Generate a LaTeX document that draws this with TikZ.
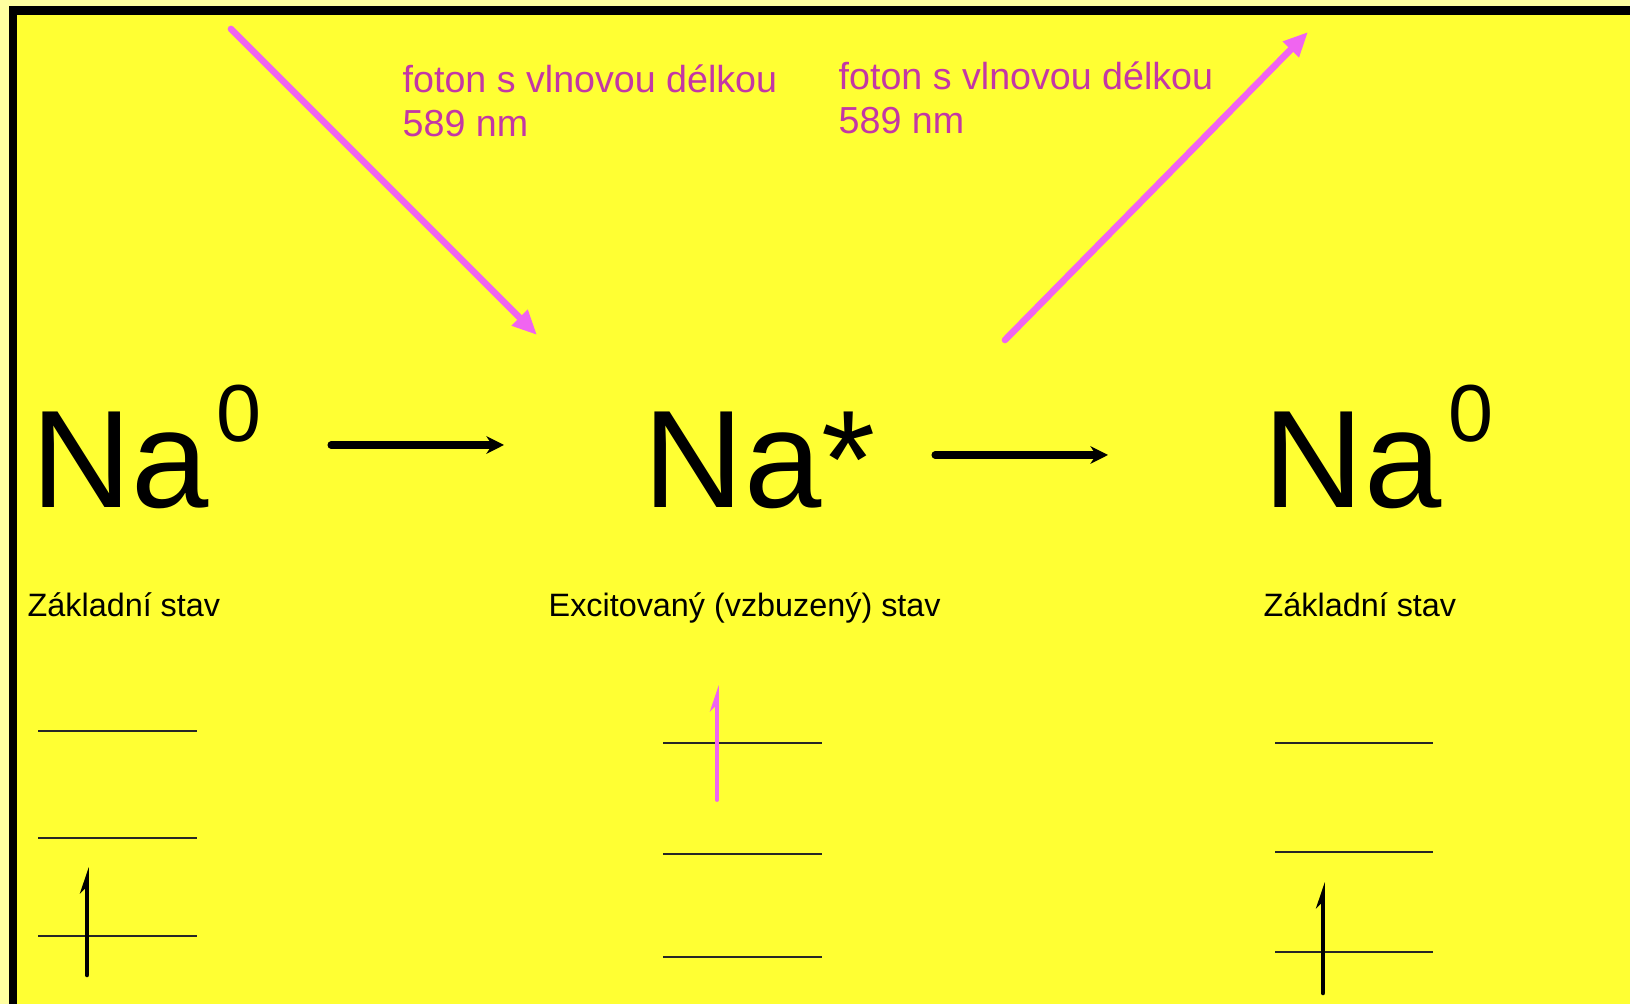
\documentclass[tikz,border=0pt]{standalone}
\usepackage{fontspec}
\setmainfont{Liberation Sans}
\usetikzlibrary{arrows.meta,positioning}
\definecolor{bgyellow}{RGB}{255,255,51}
\definecolor{paleyellow}{RGB}{255,255,160}
\definecolor{photonpink}{RGB}{240,100,240}
\definecolor{photontext}{RGB}{195,55,165}
\tikzset{
  photon/.style={-{Triangle[length=7pt,width=6pt]}, line width=1.9pt, draw=photonpink, line cap=round},
  rxn/.style={-{Stealth[length=5pt,width=5pt]}, line width=2pt, draw=black, line cap=round},
  level/.style={line width=0.85pt, draw=black!85},
  spin/.style={-{Stealth[left,length=6pt,width=4pt]}, line width=1.3pt, line cap=round},
  species/.style={anchor=base west, inner sep=0pt, font=\fontsize{39.5}{44}\selectfont},
  statelbl/.style={anchor=base west, inner sep=0pt, font=\fontsize{9.2}{11}\selectfont},
  fotonlbl/.style={anchor=base west, inner sep=0pt, align=left, text=photontext,
    font=\fontsize{10.7}{12.6}\selectfont},
}
\newcommand{\supzero}{\kern2pt\raisebox{18.8pt}{\fontsize{23}{23}\selectfont 0}}

\begin{document}
\begin{tikzpicture}[x=0.01cm, y=-0.01cm]
  % frame
  \fill[paleyellow] (0,0) rectangle (1630,1004);
  \fill[bgyellow] (9,6) rectangle (1630,1004);
  \fill[black] (9,6) rectangle (1630,15);
  \fill[black] (9,6) rectangle (17,1004);
  \useasboundingbox (0,0) rectangle (1630,1004);

  % species
  \node[species] (na1) at (31,508) {Na\supzero};
  \node[species] (nas) at (643,508) {Na*};
  \node[species] (na2) at (1263,508) {Na\supzero};
  \node[statelbl] (st1) at (27,617) {Základní stav};
  \node[statelbl] (st2) at (548,617) {Excitovaný (vzbuzený) stav};
  \node[statelbl] (st3) at (1263,617) {Základní stav};

  % reaction arrows
  \coordinate (r1s) at (331,445);
  \coordinate (r1e) at (504,445);
  \coordinate (r2s) at (935,455);
  \coordinate (r2e) at (1108,455);
  \draw[rxn] (r1s) -- (r1e);
  \draw[rxn] (r2s) -- (r2e);

  % photons
  \node[fotonlbl] (f1) at (402,137) {foton s vlnovou délkou\\589 nm};
  \node[fotonlbl] (f2) at (838,134) {foton s vlnovou délkou\\589 nm};
  \coordinate (p1s) at (231,29);
  \coordinate (p1e) at (537,335);
  \coordinate (p2s) at (1005,340);
  \coordinate (p2e) at (1308,32);
  \draw[photon] (p1s) -- (p1e);
  \draw[photon] (p2s) -- (p2e);

  % energy levels
  \foreach \xa/\xb/\ya/\yb/\yc in {38/197/731/838/936, 663/822/743/854/957, 1275/1433/743/852/952} {
    \draw[level] (\xa,\ya) -- (\xb,\ya);
    \draw[level] (\xa,\yb) -- (\xb,\yb);
    \draw[level] (\xa,\yc) -- (\xb,\yc);
  }
  % electrons
  \draw[spin, black] (87,975) -- (87,867);
  \draw[spin, photonpink, line width=1.1pt] (717,800) -- (717,685);
  \draw[spin, black] (1323,993) -- (1323,882);
\end{tikzpicture}
\end{document}
